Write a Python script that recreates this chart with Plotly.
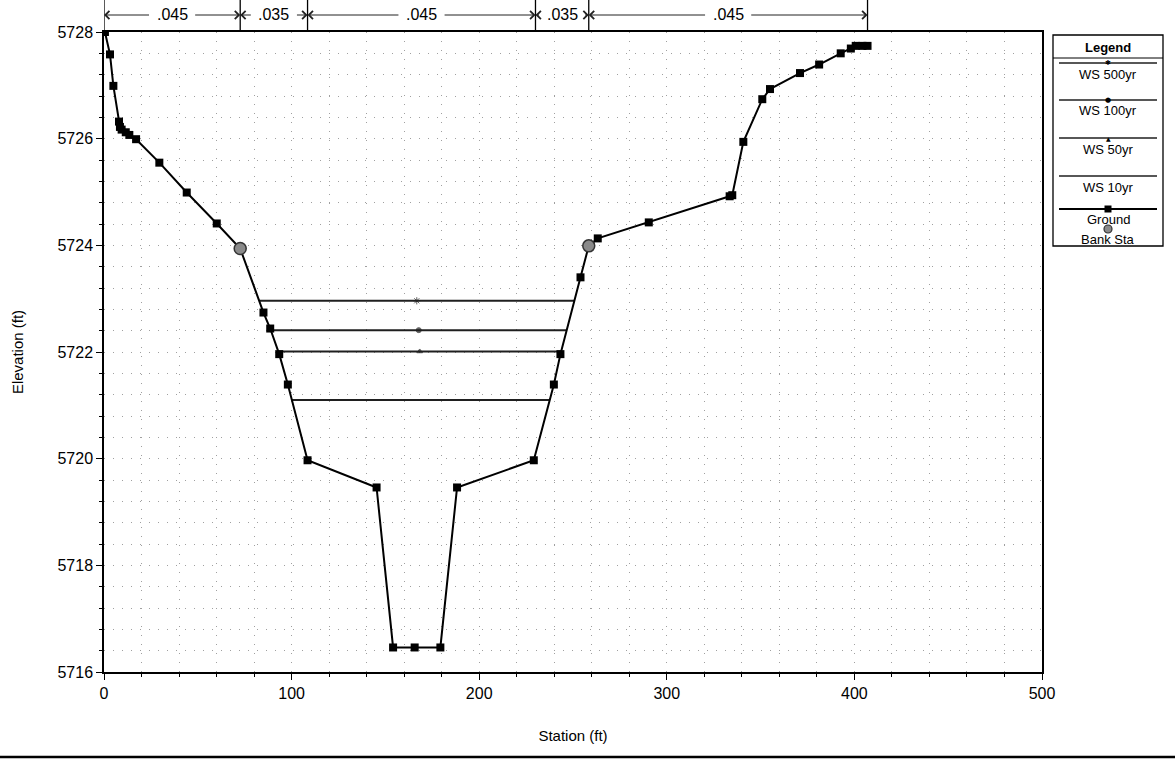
import numpy as np
import plotly.graph_objects as go

# Ground profile (station ft, elevation ft)
station = [0.5, 3.2, 5.0, 8.0, 8.5, 9.4, 11.6, 13.5, 17.1, 29.5, 44.1, 60.1, 72.6,
           85.0, 88.6, 93.4, 98.0, 108.5, 145.3, 154.1, 165.6, 179.3, 188.2, 229.1,
           239.8, 243.3, 254.0, 258.4, 263.2, 290.4, 333.5, 334.9, 340.8, 350.9,
           355.0, 371.0, 381.2, 392.7, 398.1, 400.7, 404.3, 407.0]
elevation = [5728.00, 5727.58, 5726.99, 5726.32, 5726.22, 5726.17, 5726.12, 5726.07,
             5725.99, 5725.55, 5724.99, 5724.41, 5723.94, 5722.74, 5722.44, 5721.96,
             5721.39, 5719.97, 5719.46, 5716.46, 5716.46, 5716.46, 5719.46, 5719.97,
             5721.39, 5721.96, 5723.40, 5723.99, 5724.13, 5724.43, 5724.92, 5724.94,
             5725.94, 5726.74, 5726.93, 5727.23, 5727.39, 5727.60, 5727.69, 5727.74,
             5727.74, 5727.74]

# Bank stations
bank_station = [72.6, 258.4]

# Water surface profiles
ws_names = ["WS 500yr", "WS 100yr", "WS 50yr", "WS 10yr"]
ws_elev = [5722.96, 5722.41, 5722.01, 5721.10]
ws_symbols = ["asterisk-open", "circle", "triangle-up", "circle"]
ws_marker_size = [6, 5, 5, 0]

# Manning's n zones
n_breaks = [0.0, 72.6, 108.5, 230.0, 258.4, 407.0]
n_values = [".045", ".035", ".045", ".035", ".045"]

x_ticks = [0, 100, 200, 300, 400, 500]
y_ticks = [5716, 5718, 5720, 5722, 5724, 5726, 5728]

FONT = "Liberation Sans, Arial, sans-serif"
W, H = 1175, 761
ML, MR, MT, MB = 104, 133, 32, 89
PW, PH = W - ML - MR, H - MT - MB


def px_x(px):
    return (px - ML) / PW


def px_y(py):
    return (H - MB - py) / PH


st = np.array(station)
el = np.array(elevation)
low = int(np.argmin(el))


def water_edges(z):
    left = right = None
    for i in range(low - 1, -1, -1):
        if el[i] >= z >= el[i + 1]:
            left = st[i] + (el[i] - z) / (el[i] - el[i + 1]) * (st[i + 1] - st[i])
            break
    for i in range(low, len(st) - 1):
        if el[i] <= z <= el[i + 1]:
            right = st[i] + (z - el[i]) / (el[i + 1] - el[i]) * (st[i + 1] - st[i])
            break
    return left, right


fig = go.Figure()

for name, z, sym, ms in zip(ws_names, ws_elev, ws_symbols, ws_marker_size):
    xl, xr = water_edges(z)
    xm = (xl + xr) / 2
    fig.add_trace(go.Scatter(
        x=[xl, xm, xr], y=[z, z, z], name=name, mode="lines+markers",
        line=dict(color="#1f1f1f", width=2),
        marker=dict(symbol=sym, size=[0, ms, 0], color="#1f1f1f",
                    line=dict(color="#1f1f1f", width=1)),
        showlegend=False, hoverinfo="x+y+name"))

fig.add_trace(go.Scatter(
    x=station, y=elevation, name="Ground", mode="lines+markers",
    line=dict(color="black", width=2),
    marker=dict(symbol="square", size=8, color="black"),
    showlegend=False))

bank_elev = np.interp(bank_station, st, el)
fig.add_trace(go.Scatter(
    x=bank_station, y=bank_elev, name="Bank Sta", mode="markers",
    marker=dict(symbol="circle", size=12, color="#8a8a8a",
                line=dict(color="#333333", width=1.5)),
    showlegend=False))

shapes = []
annotations = []


def label(x, y, text, size=14, family=FONT, xref="paper"):
    annotations.append(dict(x=x, y=y, xref=xref, yref="paper", text=text,
                            showarrow=False, xanchor="center", yanchor="middle",
                            font=dict(family=family, size=size, color="black")))


# Manning's n zones above the plot
lab_y = px_y(15)
for b in n_breaks:
    shapes.append(dict(type="line", xref="x", yref="paper", x0=b, x1=b,
                       y0=1.0, y1=px_y(0), line=dict(color="black", width=1.3)))
for a, b, n in zip(n_breaks[:-1], n_breaks[1:], n_values):
    c = (a + b) / 2
    half = min(11.5, (b - a) / 2 - 2.5)
    label(c, lab_y, n, size=16, xref="x")
    for head, tail in ((a, c - half), (b, c + half)):
        annotations.append(dict(x=head, y=lab_y, xref="x", yref="paper",
                                ax=tail, ay=0, axref="x", text="", showarrow=True,
                                arrowhead=4, arrowsize=1.6, arrowwidth=1,
                                arrowcolor="#222222", standoff=0, startstandoff=0))

# Legend panel
lx0, lx1 = 1053, 1163
ly0, ly1 = 35, 246
lxc = (lx0 + lx1) / 2
shapes.append(dict(type="rect", xref="paper", yref="paper",
                   x0=px_x(lx0), x1=px_x(lx1), y0=px_y(ly1), y1=px_y(ly0),
                   line=dict(color="black", width=1.3), fillcolor="white"))
shapes.append(dict(type="line", xref="paper", yref="paper",
                   x0=px_x(lx0), x1=px_x(lx1), y0=px_y(58), y1=px_y(58),
                   line=dict(color="black", width=1)))
label(px_x(lxc), px_y(47), "<b>Legend</b>", size=13)

leg_line_y = [63, 100, 138, 176]
leg_text_y = [74, 111, 149, 187]
leg_glyph = ["✱", "●", "▲", ""]
leg_glyph_size = [7, 7, 6, 1]
for name, gy, ty, g, gs in zip(ws_names, leg_line_y, leg_text_y, leg_glyph, leg_glyph_size):
    shapes.append(dict(type="line", xref="paper", yref="paper",
                       x0=px_x(lx0 + 6), x1=px_x(lx1 - 6), y0=px_y(gy), y1=px_y(gy),
                       line=dict(color="#1f1f1f", width=1.5)))
    if g:
        label(px_x(lxc), px_y(gy), g, size=gs, family="DejaVu Sans")
    label(px_x(lxc), px_y(ty), name, size=13)

# Ground entry
gy = 209
shapes.append(dict(type="line", xref="paper", yref="paper",
                   x0=px_x(lx0 + 6), x1=px_x(lx1 - 6), y0=px_y(gy), y1=px_y(gy),
                   line=dict(color="black", width=1.8)))
shapes.append(dict(type="rect", xref="paper", yref="paper",
                   x0=px_x(lxc - 3.5), x1=px_x(lxc + 3.5), y0=px_y(gy + 3.5), y1=px_y(gy - 3.5),
                   line=dict(color="black", width=0), fillcolor="black"))
label(px_x(lxc), px_y(220), "Ground", size=13)
# Bank Sta entry
by = 229
shapes.append(dict(type="circle", xref="paper", yref="paper",
                   x0=px_x(lxc - 4), x1=px_x(lxc + 4), y0=px_y(by + 4), y1=px_y(by - 4),
                   line=dict(color="#333333", width=1.2), fillcolor="#8a8a8a"))
label(px_x(lxc), px_y(239), "Bank Sta", size=13)

# rule along the bottom of the sheet
shapes.append(dict(type="line", xref="paper", yref="paper",
                   x0=px_x(0), x1=px_x(W), y0=px_y(757), y1=px_y(757),
                   line=dict(color="black", width=2.5)))

grid = dict(gridcolor="#a0a0a0", gridwidth=1, griddash="1px,8px")

fig.update_layout(
    width=W, height=H,
    margin=dict(l=ML, r=MR, t=MT, b=MB),
    paper_bgcolor="white", plot_bgcolor="white",
    font=dict(family=FONT, size=14, color="black"),
    shapes=shapes, annotations=annotations,
    showlegend=False,
    xaxis=dict(range=[0, 500], tickvals=x_ticks, ticks="outside", ticklen=6,
               tickcolor="black", showline=True, linecolor="black", linewidth=1.5,
               mirror=True, zeroline=False, showgrid=True, **grid,
               minor=dict(dtick=20, ticks="outside", ticklen=3, tickcolor="black",
                          showgrid=True, **grid),
               title=dict(text="Station (ft)", font=dict(size=15), standoff=30),
               tickfont=dict(size=16)),
    yaxis=dict(range=[5716, 5728], tickvals=y_ticks, ticks="outside", ticklen=6,
               tickcolor="black", showline=True, linecolor="black", linewidth=1.5,
               mirror=True, zeroline=False, showgrid=True, **grid,
               minor=dict(dtick=0.4, ticks="outside", ticklen=3, tickcolor="black",
                          showgrid=True, **grid),
               title=dict(text="Elevation (ft)", font=dict(size=15), standoff=30),
               tickfont=dict(size=16)),
)

fig.write_html("out.html")
